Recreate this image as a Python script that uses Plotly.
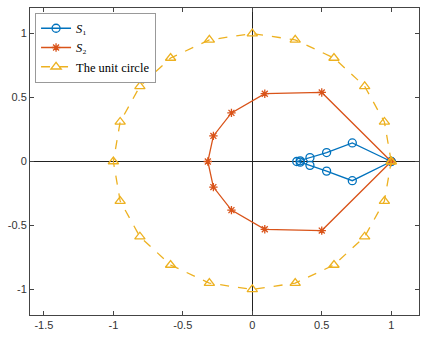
import plotly.graph_objects as go

# S1 points
s1_x = [1.0, 0.72, 0.535, 0.415, 0.345, 0.32, 0.345, 0.415, 0.535, 0.72, 1.0]
s1_y = [0.0, 0.145, 0.07, 0.03, 0.005, 0.0, -0.005, -0.03, -0.075, -0.15, 0.0]

# S2 points
s2_x = [1.0, 0.5, 0.09, -0.15, -0.28, -0.32, -0.28, -0.15, 0.09, 0.5, 1.0]
s2_y = [0.0, 0.54, 0.53, 0.38, 0.2, 0.0, -0.2, -0.38, -0.53, -0.54, 0.0]

# unit circle points (every 18 degrees)
uc_x = [1.0, 0.951, 0.809, 0.588, 0.309, 0.0, -0.309, -0.588, -0.809, -0.951, -1.0,
        -0.951, -0.809, -0.588, -0.309, 0.0, 0.309, 0.588, 0.809, 0.951, 1.0]
uc_y = [0.0, 0.309, 0.588, 0.809, 0.951, 1.0, 0.951, 0.809, 0.588, 0.309, 0.0,
        -0.309, -0.588, -0.809, -0.951, -1.0, -0.951, -0.809, -0.588, -0.309, 0.0]

x_ticks = [-1.5, -1, -0.5, 0, 0.5, 1]
x_labels = ["-1.5", "-1", "-0.5", "0", "0.5", "1"]
y_ticks = [-1, -0.5, 0, 0.5, 1]
y_labels = ["-1", "-0.5", "0", "0.5", "1"]

blue = "#0072BD"
orange = "#D95319"
yellow = "#EDB120"

fig = go.Figure()

fig.add_trace(go.Scatter(
    x=s1_x, y=s1_y, mode="lines+markers", name="<i>S</i>\u2081",
    line=dict(color=blue, width=1.3),
    marker=dict(symbol="circle-open", size=8, color=blue, line=dict(width=1.3)),
))
fig.add_trace(go.Scatter(
    x=s2_x, y=s2_y, mode="lines+markers", name="<i>S</i>\u2082",
    line=dict(color=orange, width=1.3),
    marker=dict(symbol="asterisk-open", size=7, color=orange, line=dict(width=1.3, color=orange)),
))
fig.add_trace(go.Scatter(
    x=uc_x, y=uc_y, mode="lines+markers", name="The unit circle",
    line=dict(color=yellow, width=1.3, dash="dash"),
    marker=dict(symbol="triangle-up-open", size=9, color=yellow, line=dict(width=1.3)),
))

axis_common = dict(
    showgrid=False, zeroline=True, zerolinecolor="#222222", zerolinewidth=1,
    showline=True, linecolor="#444444", linewidth=1, mirror="allticks",
    ticks="inside", ticklen=4, tickcolor="#444444", automargin=False,
    tickfont=dict(family="Liberation Sans", size=11, color="#333333"),
)

fig.update_layout(
    width=427, height=343,
    margin=dict(l=30, r=8, t=8, b=28),
    plot_bgcolor="white", paper_bgcolor="white",
    xaxis=dict(range=[-1.6, 1.2], tickvals=x_ticks, ticktext=x_labels, **axis_common),
    yaxis=dict(range=[-1.2, 1.2], tickvals=y_ticks, ticktext=y_labels, **axis_common),
    legend=dict(
        x=0.013, y=0.985, xanchor="left", yanchor="top",
        bgcolor="white", bordercolor="#999999", borderwidth=1,
        font=dict(family="Liberation Serif", size=12.5, color="black"),
        tracegroupgap=0, itemwidth=30,
    ),
    showlegend=True,
)

# page body has a default 8px margin; remove it so the figure sits at the window corner
fig.write_html("out.html", config={"displayModeBar": False},
               post_script="document.body.style.margin='0';")
